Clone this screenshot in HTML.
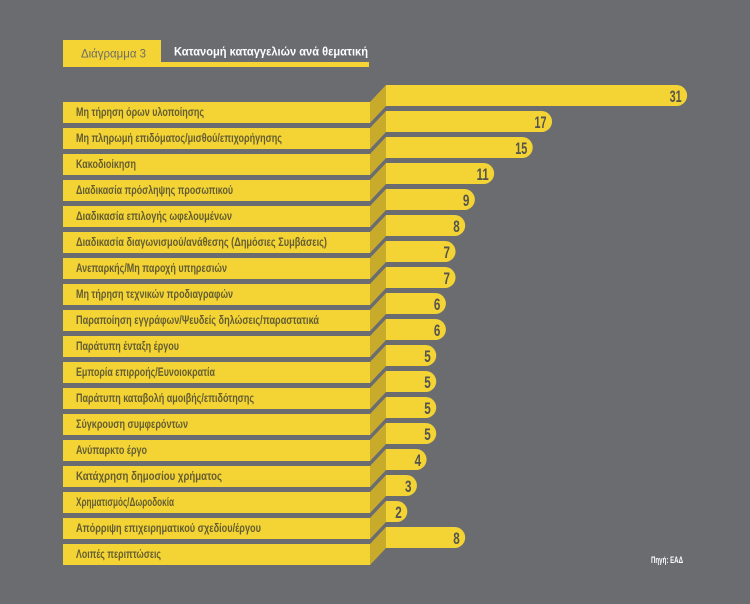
<!DOCTYPE html>
<html><head><meta charset="utf-8"><style>
html,body{margin:0;padding:0;background:#6b6c70;}
svg{display:block;}
</style></head><body>
<svg width="750" height="604" viewBox="0 0 750 604" xmlns="http://www.w3.org/2000/svg" font-family="'Liberation Sans Narrow','Liberation Sans',sans-serif">
<rect width="750" height="604" fill="#6b6c70"/>
<rect x="63" y="40" width="98" height="27" fill="#f3d434"/>
<rect x="161" y="62" width="208" height="5" fill="#f3d434"/>
<text x="81" y="57.5" font-size="12" fill="#6e6c66" textLength="65" lengthAdjust="spacingAndGlyphs" font-family="'Liberation Sans',sans-serif">Διάγραμμα 3</text>
<text x="174" y="55.5" font-size="12" font-weight="bold" fill="#ffffff" textLength="194" lengthAdjust="spacingAndGlyphs" font-family="'Liberation Sans',sans-serif">Κατανομή καταγγελιών ανά θεματική</text>
<g id="rows"></g>
<text x="651" y="563" font-size="9" font-weight="bold" fill="#ffffff" textLength="32" lengthAdjust="spacingAndGlyphs">Πηγή: ΕΑΔ</text>
</svg>
<script>
var rows=[
["Μη τήρηση όρων υλοποίησης",31,128],
["Μη πληρωμή επιδόματος/μισθού/επιχορήγησης",17,206],
["Κακοδιοίκηση",15,60],
["Διαδικασία πρόσληψης προσωπικού",11,157],
["Διαδικασία επιλογής ωφελουμένων",9,156],
["Διαδικασία διαγωνισμού/ανάθεσης (Δημόσιες Συμβάσεις)",8,251],
["Ανεπαρκής/Μη παροχή υπηρεσιών",7,151],
["Μη τήρηση τεχνικών προδιαγραφών",7,157],
["Παραποίηση εγγράφων/Ψευδείς δηλώσεις/παραστατικά",6,243],
["Παράτυπη ένταξη έργου",6,103],
["Εμπορία επιρροής/Ευνοιοκρατία",5,139],
["Παράτυπη καταβολή αμοιβής/επιδότησης",5,178],
["Σύγκρουση συμφερόντων",5,112],
["Ανύπαρκτο έργο",5,71],
["Κατάχρηση δημοσίου χρήματος",4,146],
["Χρηματισμός/Δωροδοκία",3,98],
["Απόρριψη επιχειρηματικού σχεδίου/έργου",2,185],
["Λοιπές περιπτώσεις",8,85]];
var s="";
for(var i=0;i<rows.length;i++){
 var L=102+26*i, R=L-17, v=rows[i][1], e=388+9.65*v, r=10.5;
 s+='<rect x="63" y="'+L+'" width="307" height="21" fill="#f3d434"/>';
 s+='<polygon points="370,'+L+' 386,'+R+' 386,'+(R+21)+' 370,'+(L+21)+'" fill="#c9ab2c"/>';
 s+='<path d="M386,'+R+' H'+(e-r)+' A10.5,10.5 0 0 1 '+(e-r)+','+(R+21)+' H386 Z" fill="#f3d434"/>';
 s+='<text x="76" y="'+(L+14.2)+'" font-size="11.5" font-weight="bold" fill="#645d33" textLength="'+rows[i][2]+'" lengthAdjust="spacingAndGlyphs">'+rows[i][0]+'</text>';
 var w=v>=10?12:6.5;
 s+='<text x="'+(e-5.5-w)+'" y="'+(R+17)+'" font-size="17" font-weight="bold" fill="#55544f" textLength="'+w+'" lengthAdjust="spacingAndGlyphs">'+v+'</text>';
}
document.getElementById("rows").innerHTML=s;
</script>
</body></html>
